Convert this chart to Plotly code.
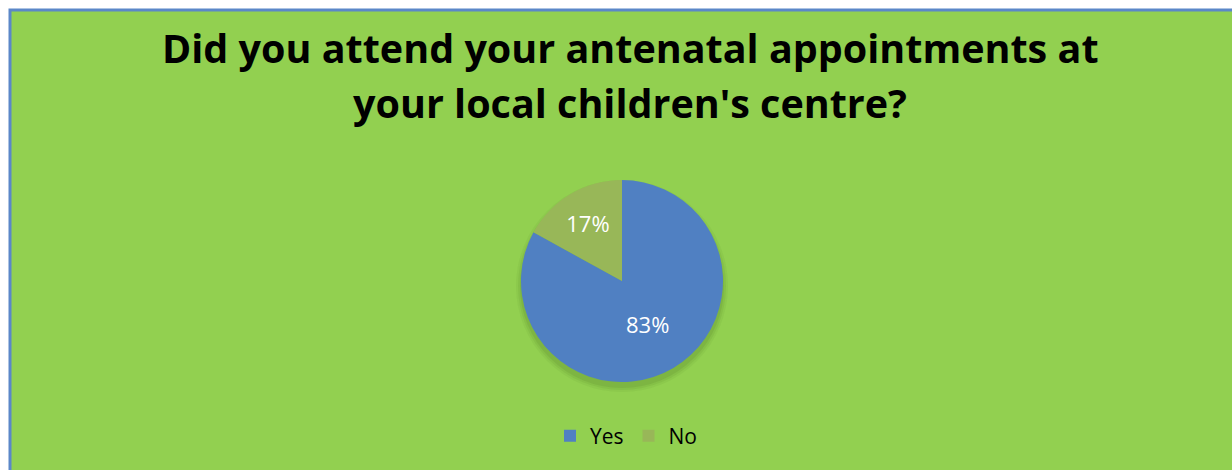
import plotly.graph_objects as go

categories = ["Yes", "No"]
values = [83, 17]
colors = ["#5080C2", "#98B758"]
title_lines = ["Did you attend your antenatal appointments at", "your local children's centre?"]

W, H = 1232, 470
cx, cy, r = 622, 281, 101

def px(x):
    return x / W

def py(y):
    return 1 - y / H

font_family = "Open Sans, Liberation Sans, sans-serif"

fig = go.Figure()
fig.add_trace(go.Pie(
    labels=categories,
    values=values,
    marker=dict(colors=colors, line=dict(width=0)),
    sort=False,
    direction="clockwise",
    rotation=0,
    texttemplate="%{percent:.0%}",
    textposition="inside",
    insidetextorientation="horizontal",
    textfont=dict(family=font_family, size=22, color="white"),
    domain=dict(x=[px(cx - r), px(cx + r)], y=[py(cy + r), py(cy - r)]),
    hoverinfo="label+percent",
))

shapes = [
    dict(type="rect", xref="paper", yref="paper",
         x0=px(10), x1=1.3, y0=-0.3, y1=py(10),
         fillcolor="#92D050", line=dict(color="#5B87C8", width=3), layer="below"),
]
# soft shadow beneath the pie
for dr, op in [(5, 0.05), (3, 0.07), (1, 0.09)]:
    rr = r + dr
    ccy = cy + 5
    shapes.append(dict(type="circle", xref="paper", yref="paper",
                       x0=px(cx - rr), x1=px(cx + rr), y0=py(ccy + rr), y1=py(ccy - rr),
                       fillcolor=f"rgba(40,80,20,{op})", line=dict(width=0), layer="below"))

annotations = []
for i, line in enumerate(title_lines):
    annotations.append(dict(text=f"<b>{line}</b>", xref="paper", yref="paper",
                            x=px(630), y=py(48 + 55 * i), xanchor="center", yanchor="middle",
                            showarrow=False,
                            font=dict(family=font_family, size=39.5, color="black")))

fig.update_layout(
    width=W, height=H,
    margin=dict(l=0, r=0, t=0, b=0),
    paper_bgcolor="white",
    plot_bgcolor="white",
    shapes=shapes,
    annotations=annotations,
    showlegend=True,
    legend=dict(orientation="h", x=px(626), xanchor="center", y=py(436), yanchor="middle",
                font=dict(family=font_family, size=21, color="black"),
                bgcolor="rgba(0,0,0,0)", itemclick=False, itemwidth=30),
)

fig.write_html("out.html")
